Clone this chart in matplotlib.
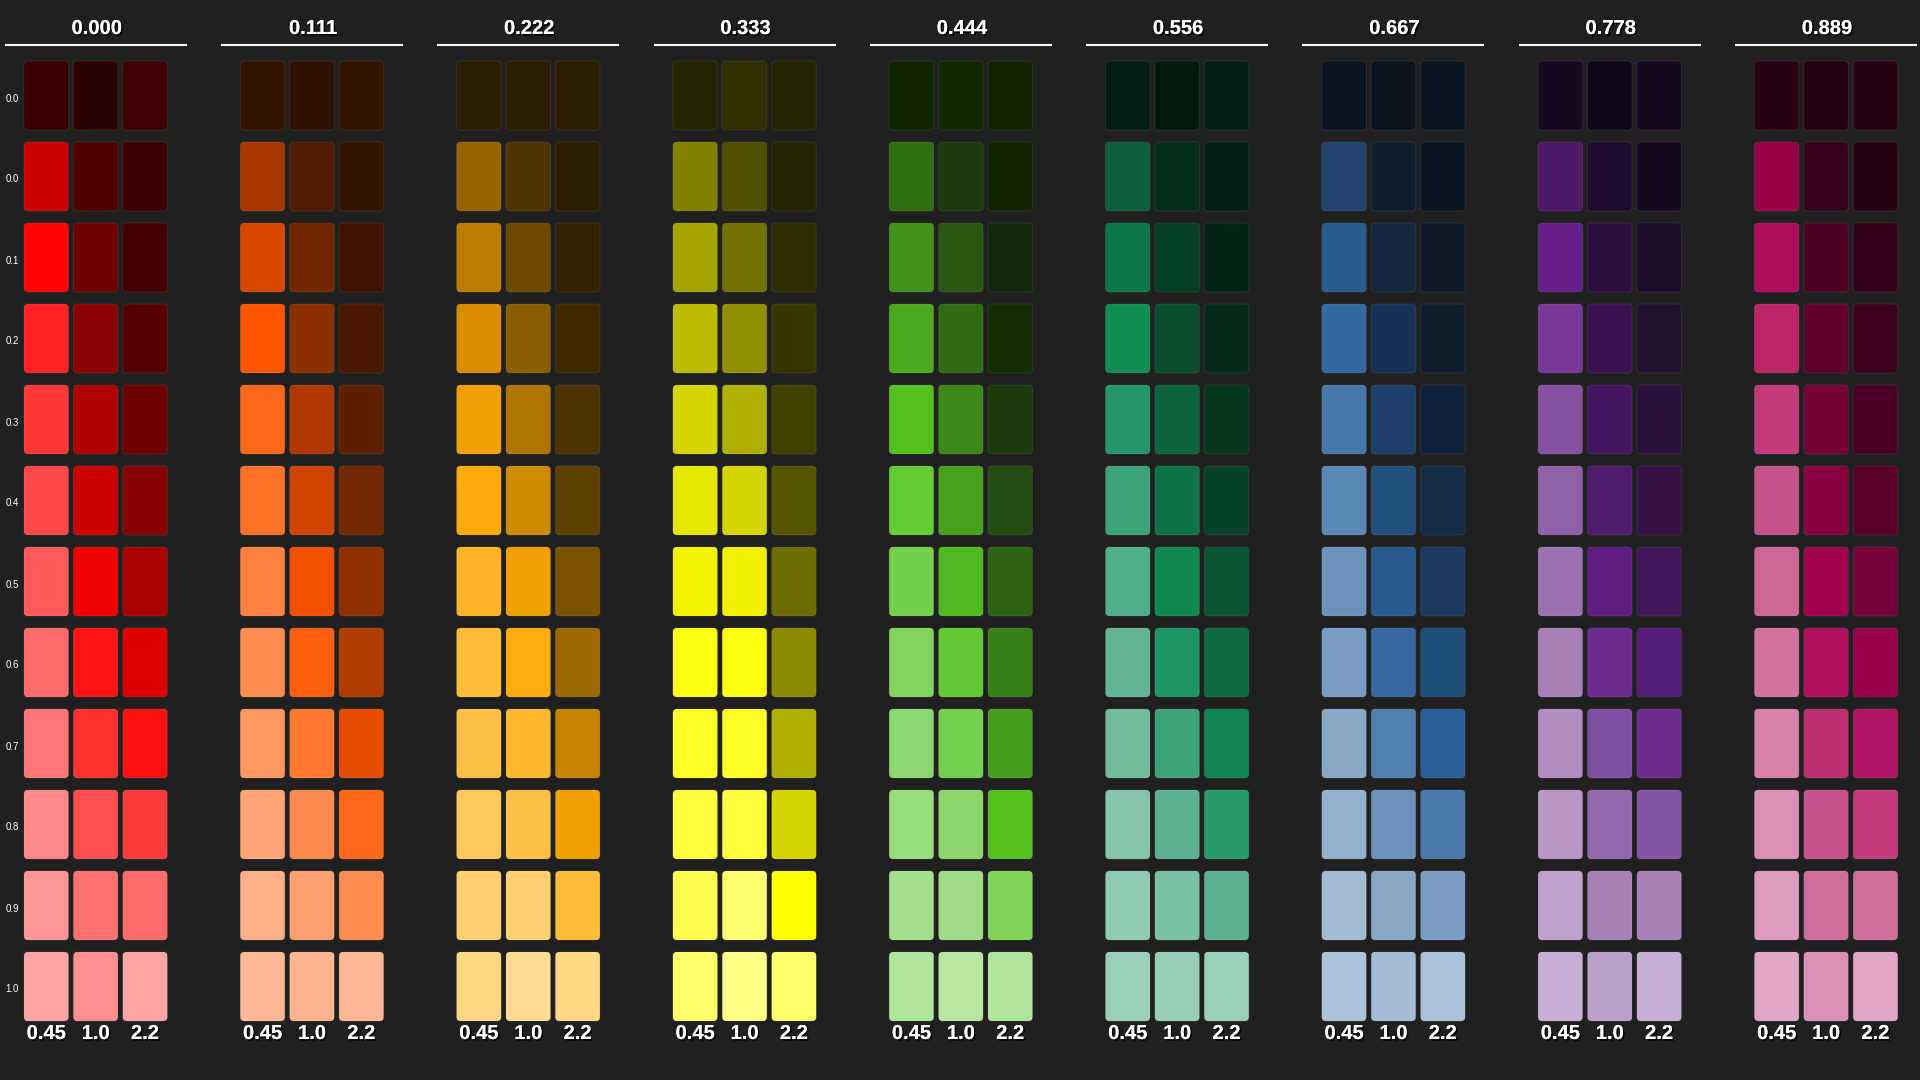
import matplotlib.pyplot as plt
import matplotlib.patheffects as pe
from matplotlib.patches import FancyBboxPatch

hues = ['0.000', '0.111', '0.222', '0.333', '0.444', '0.556', '0.667', '0.778', '0.889']
gammas = ['0.45', '1.0', '2.2']
levels = ['0.0', '0.0', '0.1', '0.2', '0.3', '0.4', '0.5', '0.6', '0.7', '0.8', '0.9', '1.0']

# one row per level, one colour per gamma column
red = [
    ['#3a0000', '#2a0000', '#3e0000'], ['#cc0000', '#500000', '#3c0000'],
    ['#ff0505', '#700000', '#440000'], ['#ff2222', '#8a0000', '#550000'],
    ['#ff3838', '#b00000', '#700000'], ['#ff4848', '#cc0000', '#880000'],
    ['#ff5a5a', '#f00000', '#aa0000'], ['#ff6a6a', '#ff1414', '#dd0000'],
    ['#ff7878', '#ff3030', '#ff1010'], ['#ff8888', '#ff5050', '#ff3c3c'],
    ['#ff9696', '#ff7070', '#ff6a6a'], ['#ffa4a4', '#ff8e8e', '#ffa4a4'],
]
orange = [
    ['#341300', '#2e1100', '#341300'], ['#a83800', '#521c00', '#361300'],
    ['#d84800', '#722600', '#3e1400'], ['#ff5500', '#8a3000', '#4a1a00'],
    ['#ff6818', '#b03800', '#5c2000'], ['#ff7228', '#d04400', '#722800'],
    ['#ff8040', '#f05000', '#903000'], ['#ff8c50', '#ff6010', '#b03c00'],
    ['#ff9860', '#ff7830', '#e84c00'], ['#ffa474', '#ff8a50', '#ff6818'],
    ['#ffb088', '#ffa070', '#ff8c50'], ['#ffb896', '#ffb490', '#ffb896'],
]
amber = [
    ['#2e1e00', '#2c1d00', '#2e1e00'], ['#966400', '#4e3400', '#2e1e00'],
    ['#be7c00', '#6e4a00', '#342200'], ['#d88c00', '#8a5e00', '#3e2800'],
    ['#f0a000', '#b07400', '#4c3200'], ['#ffaa08', '#d08a00', '#604000'],
    ['#ffb428', '#f0a000', '#7c5200'], ['#ffbc38', '#ffac10', '#9c6800'],
    ['#ffc048', '#ffb830', '#c88400'], ['#ffc85c', '#ffc048', '#f0a000'],
    ['#ffd070', '#ffd070', '#ffbc38'], ['#ffd884', '#ffdc94', '#ffd884'],
]
yellow = [
    ['#262600', '#303000', '#262600'], ['#828200', '#505000', '#262600'],
    ['#a4a400', '#727200', '#2e2e00'], ['#bcbc00', '#909000', '#363600'],
    ['#d4d400', '#b0b000', '#424200'], ['#e6e600', '#d4d400', '#565600'],
    ['#f4f400', '#f0f000', '#6c6c00'], ['#ffff10', '#ffff10', '#8a8a00'],
    ['#ffff28', '#ffff28', '#b0b000'], ['#ffff40', '#ffff40', '#d4d400'],
    ['#ffff50', '#ffff70', '#ffff00'], ['#ffff68', '#ffff88', '#ffff68'],
]
green = [
    ['#102400', '#102800', '#102400'], ['#307014', '#1c3c0c', '#102400'],
    ['#42921a', '#285812', '#12280a'], ['#4caa1e', '#306c14', '#142e08'],
    ['#54c020', '#3c8818', '#1c3c0c'], ['#64cc34', '#48a01c', '#244c10'],
    ['#74cf4c', '#50b820', '#2c6414'], ['#82d45c', '#62c834', '#388018'],
    ['#8cd870', '#76d050', '#46a01e'], ['#98dc7c', '#8cd66c', '#54c020'],
    ['#a4e08c', '#a0dc88', '#80d458'], ['#b0e49a', '#b8e6a0', '#b0e49a'],
]
teal = [
    ['#021e12', '#021a0e', '#021e12'], ['#0c5e3c', '#042e1c', '#021e12'],
    ['#0c784a', '#063e26', '#022414'], ['#0e8e52', '#0a4e30', '#042a1a'],
    ['#24986a', '#0c643c', '#06361e'], ['#3ca478', '#0e7448', '#084228'],
    ['#50ae88', '#0e8a50', '#0a5434'], ['#62b492', '#1e9664', '#0e6c40'],
    ['#72bc9c', '#3ca478', '#0e8450'], ['#84c4a8', '#5cb290', '#2a9c68'],
    ['#90cab0', '#7ac0a2', '#5cb290'], ['#9ccfb8', '#98cdb6', '#9ccfb8'],
]
blue = [
    ['#0a1420', '#0a121c', '#0a1420'], ['#20446c', '#0e1e30', '#0a1420'],
    ['#285a8e', '#142840', '#0c1828'], ['#3468a0', '#183256', '#0e1c2c'],
    ['#4878aa', '#1c4068', '#10223a'], ['#5c88b4', '#22507c', '#142c48'],
    ['#6c92bc', '#285a8e', '#1a3a5e'], ['#7a9cc2', '#3868a0', '#204c78'],
    ['#88a8c8', '#5280ae', '#2a5e98'], ['#94b0d0', '#6c92bc', '#4a7aaa'],
    ['#a2bad6', '#88a8c8', '#7a9cc2'], ['#acc2da', '#a4bcd6', '#acc2da'],
]
purple = [
    ['#160820', '#10061a', '#160820'], ['#501868', '#1e0a2c', '#160820'],
    ['#642088', '#2e0e40', '#1c0a28'], ['#783898', '#3a1250', '#22102e'],
    ['#8850a0', '#461660', '#2c103c'], ['#9060a8', '#501a6a', '#361248'],
    ['#9c72b0', '#5e1c80', '#42165a'], ['#a880b8', '#6c2c90', '#541c74'],
    ['#b08cc0', '#804ea0', '#6c2c90'], ['#b896c8', '#9468ac', '#8454a4'],
    ['#c0a0cc', '#a880b8', '#a880b8'], ['#c6aed4', '#bca0cc', '#c6aed4'],
]
magenta = [
    ['#2a0014', '#220010', '#2a0014'], ['#960046', '#36001a', '#2a0014'],
    ['#b00c5c', '#4c0024', '#320018'], ['#bc2468', '#60002c', '#3a001c'],
    ['#c23c7c', '#740036', '#4a0024'], ['#c6528a', '#880040', '#5c002c'],
    ['#cc6694', '#a0004c', '#760038'], ['#d2729e', '#b0105c', '#96004a'],
    ['#d680aa', '#bc3070', '#b01462'], ['#da90b6', '#c6528a', '#c23c7c'],
    ['#de9cc0', '#ce6e9c', '#ce6e9c'], ['#e2a6c6', '#da90b6', '#e2a6c6'],
]
groups = [red, orange, amber, yellow, green, teal, blue, purple, magenta]

bg = '#202020'
# layout in pixels
x0, y0 = 24, 61
group_dx, col_dx, row_dy = 216.3, 49.4, 81
sw, sh = 44.5, 69

shadow = [pe.withSimplePatchShadow(offset=(1.2, -1.2), shadow_rgbFace='black', alpha=0.9), pe.Normal()]

fig = plt.figure(figsize=(19.2, 10.8), dpi=100, facecolor=bg)
ax = fig.add_axes([0, 0, 1, 1])
ax.set_facecolor(bg)
ax.set_xlim(0, 1920)
ax.set_ylim(1080, 0)
ax.axis('off')

for g, (hue, cols) in enumerate(zip(hues, groups)):
    gx = x0 + g * group_dx
    cx = gx + (2 * col_dx + sw) / 2
    ax.text(cx + 1, 34, hue, color='white', fontsize=14.5, fontweight='bold',
            family='Liberation Sans', ha='center', va='baseline', path_effects=shadow)
    ax.plot([cx - 91, cx + 91], [45, 45], color='white', lw=1.5, solid_capstyle='butt')
    for r, row in enumerate(cols):
        for c, col in enumerate(row):
            box = FancyBboxPatch((gx + c * col_dx, y0 + r * row_dy), sw, sh,
                                 boxstyle='round,pad=0,rounding_size=4',
                                 facecolor=col, edgecolor=(1, 1, 1, 0.08), lw=0.8)
            ax.add_patch(box)
    for c, gam in enumerate(gammas):
        ax.text(gx + c * col_dx + sw / 2, 1039, gam, color='white', fontsize=14.5,
                fontweight='bold', family='Liberation Sans', ha='center', va='baseline',
                path_effects=shadow)

for r, lab in enumerate(levels):
    ax.text(12.5, y0 + r * row_dy + sh / 2 + 6, lab, color='white', fontsize=7,
            family='Liberation Sans', ha='center', va='baseline')

fig.savefig('out.png', dpi=100, facecolor=bg)
